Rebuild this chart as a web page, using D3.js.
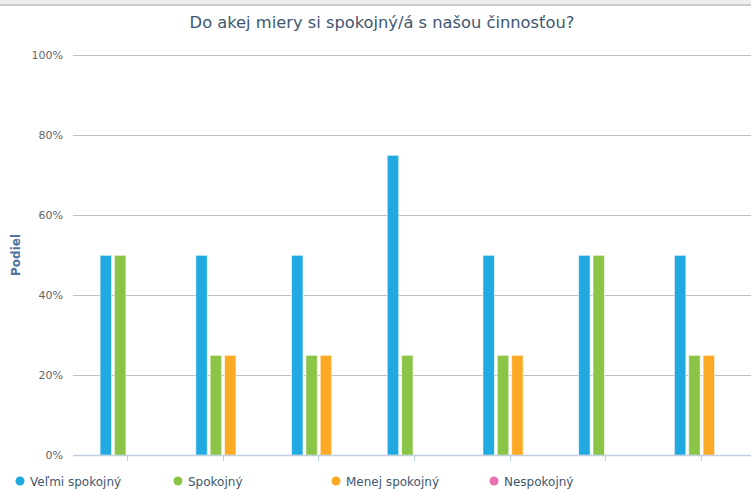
<!DOCTYPE html>
<html>
<head>
<meta charset="utf-8">
<script src="https://cdn.jsdelivr.net/npm/d3@7"></script>
<style>
  body { margin: 0; background: #fff; }
  svg { display: block; font-family: "DejaVu Sans", sans-serif; }
</style>
</head>
<body>
<div class="chart"></div>
<script>
// data
var categories = ['1', '2', '3', '4', '5', '6', '7']
var seriesNames = ['Veľmi spokojný', 'Spokojný', 'Menej spokojný', 'Nespokojný']
var seriesColors = ['#20aae1', '#8bc547', '#fca925', '#e770b0']
var velmiSpokojny = [50, 50, 50, 75, 50, 50, 50]
var spokojny = [50, 25, 25, 25, 25, 50, 25]
var menejSpokojny = [0, 25, 25, 0, 25, 0, 25]
var nespokojny = [0, 0, 0, 0, 0, 0, 0]
var yTicks = [0, 20, 40, 60, 80, 100]

var series = [velmiSpokojny, spokojny, menejSpokojny, nespokojny]

const W = 751, H = 489
const svg = d3.select('.chart')
  .append('svg')
  .attr('width', W)
  .attr('height', H)

// grey strip at the very top
svg.append('rect').attr('x', 0).attr('y', 0).attr('width', W).attr('height', 5).attr('fill', '#eeeeee')
svg.append('line').attr('x1', 0).attr('x2', W).attr('y1', 5).attr('y2', 5)
  .attr('stroke', '#cccccc').attr('stroke-width', 2)

const y = d3.scaleLinear().domain([0, 100]).range([455.3, 55.3])
const x = d3.scaleBand().domain(categories).range([79.5, 749.5])

// title
svg.append('text')
  .attr('x', 382)
  .attr('y', 28)
  .attr('text-anchor', 'middle')
  .attr('fill', '#3e576f')
  .style('font-size', '16.3px')
  .text('Do akej miery si spokojný/á s našou činnosťou?')

// gridlines
svg.selectAll('.grid')
  .data(yTicks.filter(d => d > 0))
  .enter()
  .append('line')
  .attr('x1', 73)
  .attr('x2', W)
  .attr('y1', d => Math.round(y(d)) + 0.5)
  .attr('y2', d => Math.round(y(d)) + 0.5)
  .attr('stroke', '#c0c0c0')

// y labels
svg.selectAll('.ylab')
  .data(yTicks)
  .enter()
  .append('text')
  .attr('x', 63)
  .attr('y', d => y(d) + 4)
  .attr('text-anchor', 'end')
  .attr('fill', '#666666')
  .style('font-size', '11px')
  .text(d => d + '%')

// y title
svg.append('text')
  .attr('transform', 'translate(20, 255) rotate(-90)')
  .attr('text-anchor', 'middle')
  .attr('fill', '#4d759e')
  .style('font-size', '12px')
  .style('font-weight', 'bold')
  .text('Podiel')

// bars
const bw = x.bandwidth()
const inner = d3.scaleBand()
  .domain(d3.range(series.length))
  .range([bw * 0.2, bw * 0.8])
  .paddingInner(0.2)
  .paddingOuter(0.1)

series.forEach((vals, s) => {
  const pts = vals.map((v, i) => ({ cat: categories[i], v: v })).filter(d => d.v > 0)
  svg.selectAll('.bar' + s)
    .data(pts)
    .enter()
    .append('rect')
    .attr('x', d => x(d.cat) + inner(s))
    .attr('y', d => y(d.v))
    .attr('width', inner.bandwidth())
    .attr('height', d => y(0) - y(d.v))
    .attr('fill', seriesColors[s])
    .attr('stroke', '#ffffff')
    .attr('stroke-opacity', 0.6)
})

// x axis line and ticks
svg.append('line')
  .attr('x1', 73).attr('x2', W)
  .attr('y1', 455.5).attr('y2', 455.5)
  .attr('stroke', '#c0d0e0')
  .attr('stroke-width', 1.5)
svg.selectAll('.xtick')
  .data(categories)
  .enter()
  .append('line')
  .attr('x1', d => Math.round(x(d) + bw / 2 - 0.5) + 0.5)
  .attr('x2', d => Math.round(x(d) + bw / 2 - 0.5) + 0.5)
  .attr('y1', 455)
  .attr('y2', 461)
  .attr('stroke', '#c0d0e0')

// legend
const leg = svg.selectAll('.leg')
  .data(seriesNames)
  .enter()
  .append('g')
  .attr('transform', (d, i) => `translate(${20 + i * 158}, 481)`)
leg.append('circle')
  .attr('r', 4.5)
  .attr('fill', (d, i) => seriesColors[i])
leg.append('text')
  .attr('x', 10)
  .attr('y', 5)
  .attr('fill', '#3e576f')
  .style('font-size', '12px')
  .text(d => d)
</script>
</body>
</html>
